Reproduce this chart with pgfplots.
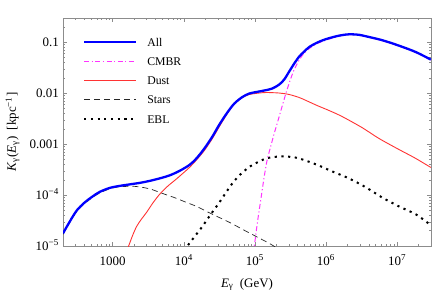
\documentclass[border=0pt]{standalone}
\usepackage{fontspec}
\setmainfont{Liberation Serif}
\usepackage{pgfplots}
\pgfplotsset{compat=1.18}
\definecolor{cblue}{rgb}{0,0,1}
\definecolor{cmag}{rgb}{1,0.2,1}
\definecolor{cred}{rgb}{1,0.2,0.2}
\definecolor{frame}{gray}{0.55}
\begin{document}
\begin{tikzpicture}
\begin{loglogaxis}[
  scale only axis, width=368bp, height=228bp,
  xmin=200, xmax=3e7, ymin=1e-5, ymax=0.3,
  axis line style={frame, line width=0.5pt},
  every tick/.style={frame, line width=0.4pt},
  major tick length=4bp, minor tick length=2.2bp,
  xtick={1000,1e4,1e5,1e6,1e7},
  xticklabels={1000, 10\textsuperscript{4}, 10\textsuperscript{5}, 10\textsuperscript{6}, 10\textsuperscript{7}},
  minor xtick={300,400,500,600,700,800,900,2000,3000,4000,5000,6000,7000,8000,9000,20000,30000,40000,50000,60000,70000,80000,90000,2e5,3e5,4e5,5e5,6e5,7e5,8e5,9e5,2e6,3e6,4e6,5e6,6e6,7e6,8e6,9e6,2e7},
  ytick={1e-5,1e-4,1e-3,1e-2,1e-1},
  yticklabels={10\textsuperscript{−5}, 10\textsuperscript{−4}, 0.001, 0.01, 0.1},
  minor ytick={2e-5,3e-5,4e-5,5e-5,6e-5,7e-5,8e-5,9e-5,2e-4,3e-4,4e-4,5e-4,6e-4,7e-4,8e-4,9e-4,2e-3,3e-3,4e-3,5e-3,6e-3,7e-3,8e-3,9e-3,2e-2,3e-2,4e-2,5e-2,6e-2,7e-2,8e-2,9e-2,0.2},
  tick label style={font=\fontsize{13}{15}\selectfont, inner sep=0pt},
  xticklabel style={anchor=base, yshift=-19bp},
  yticklabel style={anchor=base east, xshift=-4bp, yshift=-4.2bp},
  legend style={draw=none, fill=none, at={(axis description cs:0,1)}, anchor=north west,
    xshift=20bp, yshift=-20bp, inner sep=0pt, outer sep=0pt, row sep=8.15bp, column sep=10bp,
    font=\fontsize{11.8}{13}\selectfont,
    nodes={inner sep=0pt, text height=8.5bp, text depth=2.5bp}},
  legend cell align=left,
  legend image code/.code={\draw[#1] (0bp,1.3bp) -- (52bp,1.3bp);},
]
\addlegendimage{cblue, line width=2.3bp}
\addlegendentry{All}
\addlegendimage{cmag, line width=1bp, dash pattern=on 5bp off 2.5bp on 1.2bp off 2.5bp}
\addlegendentry{CMBR}
\addlegendimage{cred, line width=0.9bp}
\addlegendentry{Dust}
\addlegendimage{black!85, line width=0.7bp, dash pattern=on 6bp off 4bp}
\addlegendentry{Stars}
\addlegendimage{black, line width=2bp, dash pattern=on 2.2bp off 4.5bp}
\addlegendentry{EBL}

% Stars
\addplot[forget plot, smooth, black!85, line width=0.7bp, dash pattern=on 6bp off 4bp] coordinates {
(200,1.694e-5) (250,2.92e-5) (313,4.79e-5) (405,6.87e-5) (524,9.02e-5) (658,1.104e-4)
(908,1.324e-4) (1138,1.429e-4) (1570,1.483e-4) (2037,1.483e-4) (2636,1.416e-4) (3524,1.294e-4)
(4560,1.13e-4) (6295,9.64e-5) (7907,8.61e-5) (11270,7.03e-5) (15070,6.0e-5) (25290,4.19e-5)
(43750,2.92e-5) (75680,1.941e-5) (149300,1.183e-5) (187100,9.86e-6) (234400,8.24e-6)};
% EBL
\addplot[forget plot, smooth, black, line width=2bp, dash pattern=on 2.2bp off 4.5bp] coordinates {
(10570,7.87e-6) (11270,1e-5) (14130,1.517e-5) (18280,2.43e-5) (23660,4.09e-5) (31700,7.19e-5)
(39720,1.156e-4) (48190,1.694e-4) (60390,2.432e-4) (83370,3.57e-4) (108100,4.38e-4)
(144500,5.25e-4) (187100,5.61e-4) (242100,5.74e-4) (324300,5.61e-4) (419800,5.25e-4)
(726100,4.0e-4) (1.219e6,2.92e-4) (2.109e6,2.123e-4) (3.648e6,1.416e-4) (6.124e6,9.02e-5)
(1.059e7,6.0e-5) (1.837e7,4.19e-5) (2.884e7,2.66e-5) (3e7,2.6e-5)};
% Dust
\addplot[forget plot, smooth, cred, line width=0.9bp] coordinates {
(1570,7.87e-6) (1675,1e-5) (1910,1.622e-5) (2173,2.43e-5) (2553,3.41e-5) (2999,4.58e-5)
(3639,6.87e-5) (4560,1.032e-4) (5902,1.483e-4) (7907,2.08e-4) (10230,2.85e-4) (12020,3.49e-4)
(15070,4.88e-4) (19500,7.52e-4) (25290,1.294e-3) (31700,2.22e-3) (41020,4.0e-3) (51400,6.14e-3)
(66530,8.24e-3) (83370,9.44e-3) (115300,1.009e-2) (144500,1.033e-2) (219800,1.009e-2)
(303400,9.44e-3) (419800,8.24e-3) (526000,7.19e-3) (749900,5.74e-3) (1.104e6,4.58e-3)
(1.683e6,3.49e-3) (3.206e6,2.12e-3) (5.559e6,1.294e-3) (1.059e7,7.87e-4) (1.778e7,5.36e-4)
(2.979e7,3.49e-4)};
% CMBR
\addplot[forget plot, smooth, cmag, line width=1bp, dash pattern=on 5bp off 2.5bp on 1.2bp off 2.5bp] coordinates {
(89130,4.38e-6) (98170,1e-5) (108100,2.79e-5) (123000,9.44e-5) (135500,2.33e-4) (149300,5.01e-4)
(169800,9.86e-4) (187100,1.622e-3) (219800,3.49e-3) (275400,1.033e-2) (335000,2.33e-2)
(393600,3.82e-2) (462400,5.48e-2) (579400,7.52e-2) (749900,9.44e-2) (1.002e6,0.1104)
(1.528e6,0.1324) (2.109e6,0.1416) (2.911e6,0.1384) (6.124e6,0.1079) (1.059e7,0.0842)
(1.837e7,0.0628) (2.979e7,0.0448)};
% All
\addplot[forget plot, smooth, cblue, line width=2.3bp] coordinates {
(200,1.775e-5) (250,3.05e-5) (313,5.01e-5) (405,7.19e-5) (524,9.44e-5) (658,1.156e-4)
(908,1.384e-4) (1253,1.514e-4) (1730,1.621e-4) (2393,1.734e-4) (3304,1.898e-4) (4560,2.123e-4)
(6295,2.432e-4) (8710,2.985e-4) (12020,3.91e-4) (15070,5.25e-4) (19500,8.24e-4) (25290,1.416e-3)
(31700,2.432e-3) (41020,4.19e-3) (51400,6.28e-3) (66530,8.41e-3) (83370,9.86e-3)
(104700,1.056e-2) (135500,1.13e-2) (175400,1.236e-2) (219800,1.482e-2) (258200,1.858e-2)
(303400,2.66e-2) (357300,3.82e-2) (419800,5.25e-2) (493200,6.58e-2) (579400,8.05e-2)
(749900,9.86e-2) (1.002e6,0.1156) (1.528e6,0.1352) (2.109e6,0.1435) (2.911e6,0.1403)
(3.648e6,0.1312) (6.124e6,0.1104) (1.059e7,0.0861) (1.837e7,0.0643) (2.979e7,0.0458)};
\end{loglogaxis}
\node[rotate=90, anchor=center, inner sep=0pt, font=\fontsize{13}{15}\selectfont]
  at ([xshift=-50.4bp]current axis.west)
  {\textit{K}\textsubscript{γ}(\textit{E}\textsubscript{γ})\ \ [kpc\textsuperscript{−1}]};
\node[anchor=center, inner sep=0pt, font=\fontsize{13}{15}\selectfont]
  at ([yshift=-38.5bp]current axis.south)
  {\textit{E}\textsubscript{γ}\ \ (GeV)};
\pgfresetboundingbox
\path[use as bounding box] ([xshift=-63bp,yshift=-48bp]current axis.south west) rectangle ([xshift=5bp,yshift=18bp]current axis.north east);
\end{tikzpicture}
\end{document}
